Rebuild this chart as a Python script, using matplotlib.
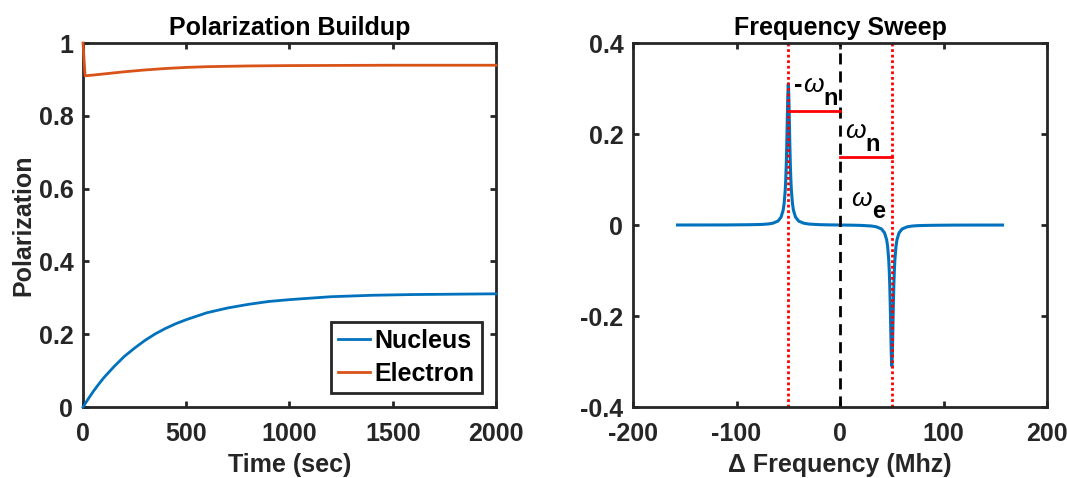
import matplotlib
matplotlib.use("Agg")
from matplotlib import pyplot

# Polarization buildup, values
t_nuc = [0, 25, 50, 75, 100, 150, 200, 250, 300, 350, 400, 450, 500, 600,
         700, 800, 900, 1000, 1200, 1400, 1600, 1800, 2000]
p_nuc = [0, 0.022, 0.043, 0.062, 0.080, 0.111, 0.139, 0.162, 0.183, 0.201,
         0.216, 0.229, 0.240, 0.259, 0.272, 0.282, 0.290, 0.295, 0.303,
         0.307, 0.309, 0.310, 0.311]
t_ele = [0, 10, 50, 100, 200, 300, 400, 500, 600, 800, 1000, 1500, 2000]
p_ele = [1.0, 0.910, 0.912, 0.915, 0.921, 0.926, 0.930, 0.933, 0.935,
         0.937, 0.938, 0.939, 0.939]

f_half = [-157, -130, -110, -90, -80, -75, -70, -65, -60, -57, -55, -54, -53,
          -52.5, -52, -51.5, -51, -50.5, -50, -49.5, -49, -48.5, -48, -47.5,
          -47, -46, -45, -43, -40, -35, -30, -20, -10]
s_half = [0.00006, 0.0001, 0.0002, 0.0006, 0.001, 0.0014, 0.0022, 0.0039,
          0.0086, 0.0173, 0.0322, 0.0476, 0.0755, 0.098, 0.130, 0.175, 0.231,
          0.285, 0.31, 0.285, 0.231, 0.175, 0.130, 0.098, 0.0755, 0.0476,
          0.0322, 0.0173, 0.0086, 0.0039, 0.0021, 0.0008, 0.0003]
freq = f_half + [0] + [-f for f in f_half[::-1]]
signal = s_half + [0] + [-s for s in s_half[::-1]]

omega_n = 50
level_neg = 0.25
level_pos = 0.15

BLUE = '#0072BD'
ORANGE = '#D95319'
GREY = '#262626'
FS = 18

pyplot.rcParams['font.family'] = ['Liberation Sans', 'DejaVu Sans']
pyplot.rcParams['font.weight'] = 'bold'
pyplot.rcParams['axes.unicode_minus'] = False


def styleAxes(ax):
    for s in ax.spines.values():
        s.set_linewidth(2)
        s.set_color(GREY)
    ax.tick_params(direction='in', top=True, right=True, length=4.5, width=2,
                   colors=GREY, labelsize=FS)
    ax.tick_params(axis='x', pad=11)
    ax.tick_params(axis='y', pad=7)
    for lab in ax.get_xticklabels() + ax.get_yticklabels():
        lab.set_fontweight('bold')


def omegaLabel(ax, x, y, sub, dash=False):
    """omega with a bold subscript, MATLAB style"""
    if dash:
        anchor = ax.text(x, y, '-', fontsize=FS, fontweight='bold',
                         ha='left', va='center')
        om = ax.annotate('\u03c9', xy=(1, 0.5), xycoords=anchor,
                         xytext=(0.3, 0), textcoords='offset points',
                         fontsize=FS + 1, style='italic', fontweight='normal',
                         ha='left', va='center')
    else:
        om = ax.text(x, y, '\u03c9', fontsize=FS + 1, style='italic',
                     fontweight='normal', ha='left', va='center')
    ax.annotate(sub, xy=(1, 0.5), xycoords=om, xytext=(0.4, -9.5),
                textcoords='offset points', fontsize=FS - 1,
                fontweight='bold', ha='left', va='center')


fig = pyplot.figure(figsize=(10.67, 4.78), dpi=100)

ax1 = fig.add_axes([0.0778, 0.1485, 0.387, 0.7615])
ax1.plot(t_nuc, p_nuc, color=BLUE, lw=2, label='Nucleus', zorder=3,
         clip_on=False)
ax1.plot(t_ele, p_ele, color=ORANGE, lw=2, label='Electron', zorder=3,
         clip_on=False)
ax1.set_xlim(0, 2000)
ax1.set_ylim(0, 1)
ax1.set_xticks([0, 500, 1000, 1500, 2000])
ax1.set_yticks([0, 0.2, 0.4, 0.6, 0.8, 1])
ax1.set_yticklabels(['0', '0.2', '0.4', '0.6', '0.8', '1'])
ax1.set_title('Polarization Buildup', fontsize=FS, fontweight='bold', pad=6)
ax1.set_xlabel('Time (sec)', fontsize=FS, fontweight='bold', color=GREY,
               labelpad=5)
ax1.set_ylabel('Polarization', fontsize=FS, fontweight='bold', color=GREY,
               labelpad=2)
leg = ax1.legend(loc='lower right', fontsize=FS, fancybox=False,
                 handlelength=1.25, handletextpad=0.2, borderpad=0.3,
                 labelspacing=0.35, borderaxespad=0.55, framealpha=1)
leg.get_frame().set_edgecolor(GREY)
leg.get_frame().set_linewidth(2)
for txt in leg.get_texts():
    txt.set_fontweight('bold')
styleAxes(ax1)

ax2 = fig.add_axes([0.5933, 0.1485, 0.388, 0.7615])
ax2.plot(freq, signal, color=BLUE, lw=2.2)
ax2.axvline(0, color='k', lw=2, ls=(0, (4, 2.5)))
ax2.axvline(-omega_n, color='red', lw=2, ls=(0, (1, 1)))
ax2.axvline(omega_n, color='red', lw=2, ls=(0, (1, 1)))
ax2.plot([-omega_n, 0], [level_neg, level_neg], color='red', lw=2)
ax2.plot([0, omega_n], [level_pos, level_pos], color='red', lw=2)

omegaLabel(ax2, -44.5, 0.308, 'n', dash=True)
omegaLabel(ax2, 4.5, 0.206, 'n')
omegaLabel(ax2, 10.5, 0.058, 'e')

ax2.set_xlim(-200, 200)
ax2.set_ylim(-0.4, 0.4)
ax2.set_xticks([-200, -100, 0, 100, 200])
ax2.set_yticks([-0.4, -0.2, 0, 0.2, 0.4])
ax2.set_yticklabels(['-0.4', '-0.2', '0', '0.2', '0.4'])
ax2.set_title('Frequency Sweep', fontsize=FS, fontweight='bold', pad=6)
ax2.set_xlabel('\u0394 Frequency (Mhz)', fontsize=FS, fontweight='bold',
               color=GREY, labelpad=5)
styleAxes(ax2)

fig.savefig('out.png', dpi=100)
